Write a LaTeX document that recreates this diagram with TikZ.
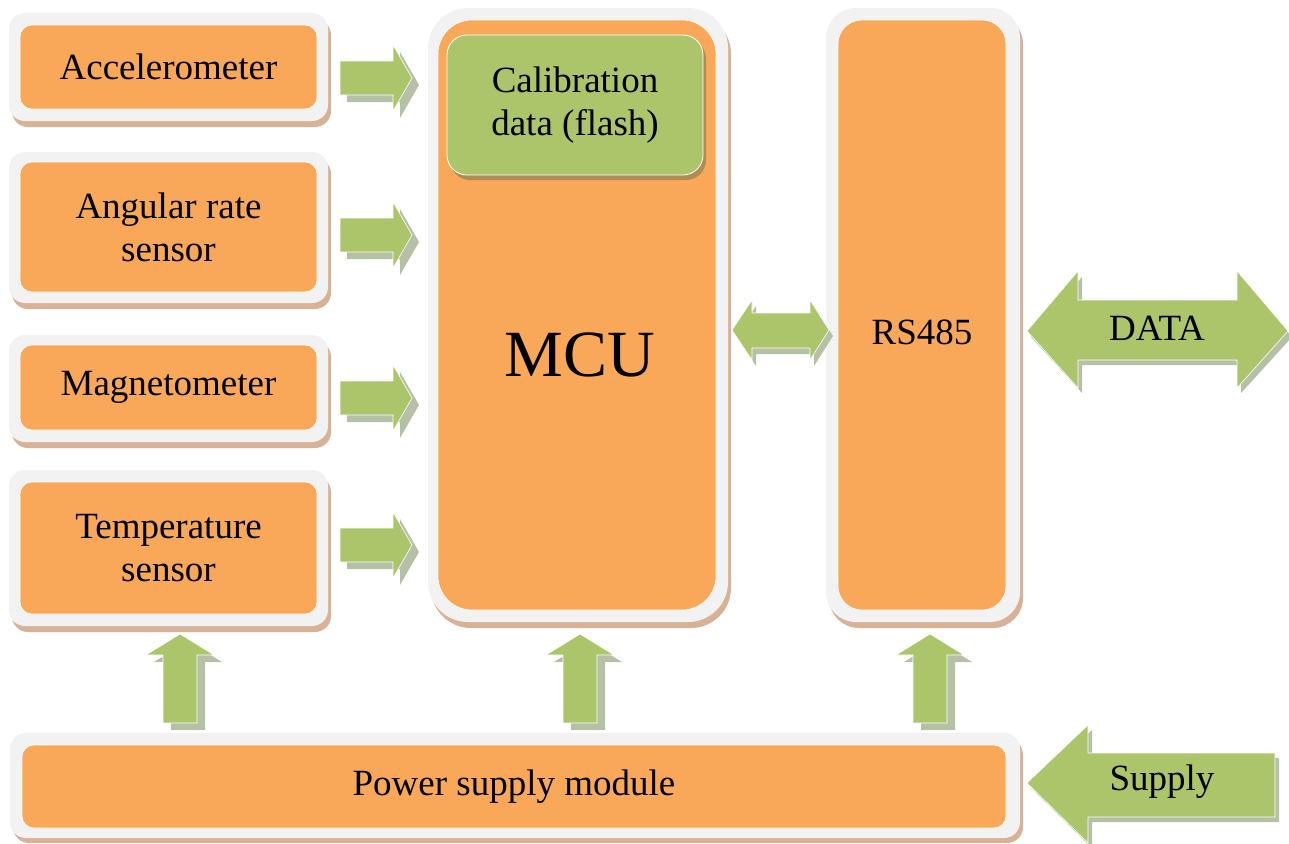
\documentclass[tikz,border=0pt]{standalone}
\usepackage{fontspec}
\setmainfont{Liberation Serif}
\definecolor{boxorange}{RGB}{248,168,88}
\definecolor{framegray}{RGB}{242,242,242}
\definecolor{framebrown}{RGB}{216,178,150}
\definecolor{arrowgreen}{RGB}{172,196,106}
\definecolor{arrowshade}{RGB}{182,192,166}
\definecolor{calshade}{RGB}{176,140,84}
\begin{document}
\begin{tikzpicture}[x=1pt,y=-1pt,
  frame/.style={fill=framegray},
  fshadow/.style={fill=framebrown},
  obox/.style={fill=boxorange, draw=white, line width=0.6pt, inner sep=0pt, align=center, font=\fontsize{37}{43}\selectfont},
  gbox/.style={fill=arrowgreen, draw=white, line width=0.8pt, inner sep=0pt, align=center, font=\fontsize{37}{43}\selectfont},
  afill/.style={fill=arrowgreen, draw=white, line width=0.6pt},
  ashade/.style={fill=arrowshade},
  lbl/.style={font=\fontsize{37}{43}\selectfont, inner sep=0pt}
]
\useasboundingbox (0,0) rectangle (1289,843);
\fill[white] (0,0) rectangle (1289,843);

% ---------- left sensor boxes ----------
% frames
\foreach \ya/\yb in {13/121, 152/303, 335/442, 470/626}{
  \fill[fshadow, rounded corners=16pt] (12,\ya+6) rectangle (331,\yb+6);
  \fill[frame, rounded corners=16pt] (9,\ya) rectangle (328,\yb);
}
\node[obox, rounded corners=12pt, minimum width=297pt, minimum height=84pt] (acc) at (168.5,67) {Accelerometer};
\node[obox, rounded corners=12pt, minimum width=297pt, minimum height=130pt] (ang) at (168.5,227) {Angular rate\\sensor};
\node[obox, rounded corners=12pt, minimum width=297pt, minimum height=85pt] (mag) at (168.5,387.5) {Magnetometer};
\node[obox, rounded corners=12pt, minimum width=297pt, minimum height=132pt] (tmp) at (168.5,548) {Temperature\\sensor};

% ---------- MCU ----------
\fill[fshadow, rounded corners=40pt] (431,14) rectangle (731,628);
\fill[frame, rounded corners=40pt] (428,8) rectangle (728,622);
\node[obox, rounded corners=34pt, minimum width=278pt, minimum height=590pt] (mcu) at (577,315) {};
\node[lbl, font=\fontsize{66}{70}\selectfont] (mcutext) at (580,355) {MCU};
\fill[calshade, rounded corners=20pt] (450,39) rectangle (706,180);
\node[gbox, rounded corners=20pt, minimum width=256pt, minimum height=140pt] (cal) at (575,105) {Calibration\\data (flash)};

% ---------- RS485 ----------
\fill[fshadow, rounded corners=30pt] (829,14) rectangle (1023,628);
\fill[frame, rounded corners=30pt] (826,8) rectangle (1020,622);
\node[obox, rounded corners=24pt, minimum width=168pt, minimum height=590pt] (rs) at (922,315) {};
\node[lbl] (rstext) at (922,332) {RS485};

% ---------- Power supply ----------
\fill[fshadow, rounded corners=16pt] (13,739) rectangle (1023,843);
\fill[frame, rounded corners=16pt] (10,733) rectangle (1020,838);
\node[obox, rounded corners=12pt, minimum width=984pt, minimum height=83pt] (pwr) at (514,786.5) {Power supply module};

% ---------- right arrows sensors -> MCU ----------
\foreach \c/\n in {78/a, 235/b, 398/c, 545/d}{
  \fill[ashade] (347,\c-17+7) -- (400,\c-17+7) -- (400,\c-33+7) -- (419,\c+7) -- (400,\c+33+7) -- (400,\c+17+7) -- (347,\c+17+7) -- cycle;
  \filldraw[afill] (340,\c-17) -- (393,\c-17) -- (393,\c-33) -- (412,\c) -- (393,\c+33) -- (393,\c+17) -- (340,\c+17) -- cycle;
}

% ---------- up arrows power -> boxes ----------
\foreach \x in {180, 580, 930}{
  \fill[ashade] (\x-17+8,723+7) -- (\x-17+8,655+7) -- (\x-34+8,655+7) -- (\x+8,634+7) -- (\x+34+8,655+7) -- (\x+17+8,655+7) -- (\x+17+8,723+7) -- cycle;
  \filldraw[afill] (\x-17,723) -- (\x-17,655) -- (\x-34,655) -- (\x,634) -- (\x+34,655) -- (\x+17,655) -- (\x+17,723) -- cycle;
}

% ---------- MCU <-> RS485 ----------
\fill[ashade] (736,336) -- (756,306) -- (756,319) -- (814,319) -- (814,306) -- (833,336) -- (814,366) -- (814,354) -- (756,354) -- (756,366) -- cycle;
\filldraw[afill] (732,330) -- (752,300) -- (752,313) -- (810,313) -- (810,300) -- (829,330) -- (810,360) -- (810,348) -- (752,348) -- (752,360) -- cycle;

% ---------- DATA ----------
\fill[ashade] (1031,337) -- (1082,277) -- (1082,305) -- (1241,305) -- (1241,277) -- (1292,337) -- (1241,393) -- (1241,365) -- (1082,365) -- (1082,393) -- cycle;
\filldraw[afill] (1027,331) -- (1078,271) -- (1078,300) -- (1237,300) -- (1237,271) -- (1288,331) -- (1237,388) -- (1237,360) -- (1078,360) -- (1078,388) -- cycle;
\node[lbl] (data) at (1157,328) {DATA};

% ---------- Supply ----------
\fill[ashade] (1031,788) -- (1092,730) -- (1092,758) -- (1279,758) -- (1279,822) -- (1092,822) -- (1092,848) -- cycle;
\filldraw[afill] (1027,783) -- (1088,725) -- (1088,753) -- (1275,753) -- (1275,817) -- (1088,817) -- (1088,843) -- cycle;
\node[lbl] (sup) at (1162,782) {Supply};
\end{tikzpicture}
\end{document}
